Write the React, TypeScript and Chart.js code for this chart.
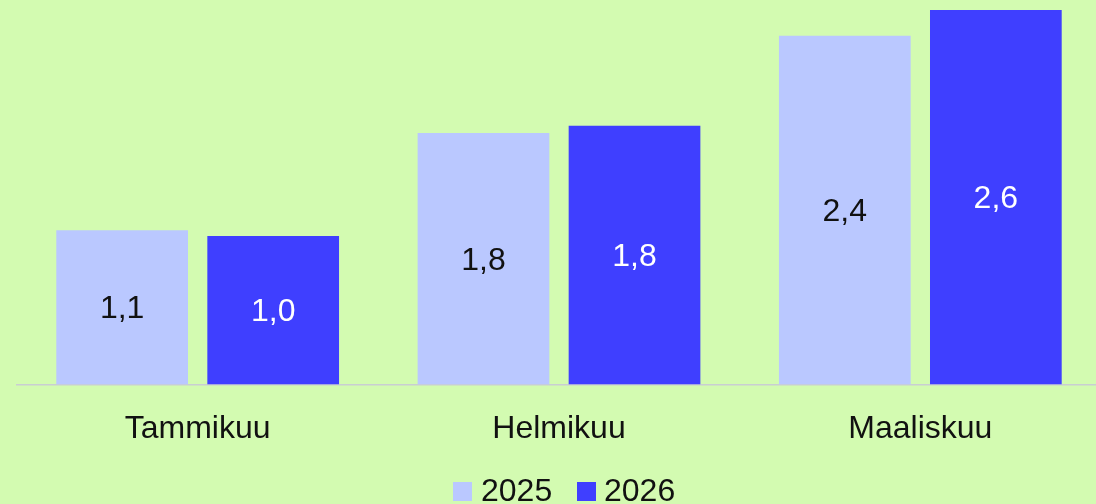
import React, { useEffect, useRef } from "react";
import { Chart, registerables } from "chart.js";

Chart.register(...registerables);

const categories = ["Tammikuu", "Helmikuu", "Maaliskuu"];
const seriesLabels = ["2025", "2026"];
const values2025 = [1.08, 1.76, 2.44];
const values2026 = [1.04, 1.81, 2.62];
const seriesColors = ["#bac8ff", "#3f3fff"];
const labelColors = ["#111111", "#ffffff"];

const BG = "#d3fbb1";
const FONT = "'Liberation Sans', Arial, sans-serif";

const fmt = (v: number) => v.toFixed(1).replace(".", ",");

const valueLabels = {
  id: "valueLabels",
  afterDatasetsDraw(chart: any) {
    const ctx = chart.ctx;
    ctx.save();
    ctx.font = `32px ${FONT}`;
    ctx.textAlign = "center";
    ctx.textBaseline = "middle";
    chart.data.datasets.forEach((ds: any, di: number) => {
      const meta = chart.getDatasetMeta(di);
      meta.data.forEach((el: any, i: number) => {
        const p = el.getProps(["x", "y", "base"], true);
        ctx.fillStyle = labelColors[di];
        ctx.fillText(fmt(ds.data[i]), p.x, (p.y + p.base) / 2 + 2);
      });
    });
    ctx.restore();
  },
};

export default function App() {
  const ref = useRef<HTMLCanvasElement | null>(null);

  useEffect(() => {
    document.body.style.margin = "0";
    document.body.style.background = BG;
    const chart = new Chart(ref.current!, {
      type: "bar",
      data: {
        labels: categories,
        datasets: [
          {
            label: seriesLabels[0],
            data: values2025,
            backgroundColor: seriesColors[0],
            categoryPercentage: 0.836,
            barPercentage: 0.872,
          },
          {
            label: seriesLabels[1],
            data: values2026,
            backgroundColor: seriesColors[1],
            categoryPercentage: 0.836,
            barPercentage: 0.872,
          },
        ],
      },
      options: {
        animation: false,
        responsive: true,
        maintainAspectRatio: false,
        layout: { padding: { left: 17, right: 0, top: 0, bottom: 31 } },
        plugins: {
          legend: { display: false },
          tooltip: { enabled: false },
        },
        scales: {
          x: {
            grid: { display: false, drawTicks: false },
            border: { display: true, color: "#c9ced2", width: 1.5 },
            ticks: {
              color: "#111111",
              padding: 25,
              font: { family: FONT, size: 32 },
            },
          },
          y: {
            display: false,
            min: 0,
            max: 2.69,
          },
        },
      },
      plugins: [valueLabels],
    });
    return () => chart.destroy();
  }, []);

  const legendText: React.CSSProperties = {
    position: "absolute",
    top: 474,
    fontFamily: FONT,
    fontSize: 32,
    lineHeight: "32px",
    color: "#111111",
    whiteSpace: "nowrap",
  };
  const box = (color: string, left: number): React.CSSProperties => ({
    position: "absolute",
    left,
    top: 482,
    width: 19,
    height: 19,
    background: color,
  });

  return (
    <div
      style={{
        position: "relative",
        width: 1096,
        height: 504,
        overflow: "hidden",
        background: BG,
      }}
    >
      <div style={{ position: "absolute", left: 0, top: 0, width: 1101, height: 504 }}>
        <canvas ref={ref} />
      </div>
      <div style={box(seriesColors[0], 453)} />
      <div style={{ ...legendText, left: 481 }}>{seriesLabels[0]}</div>
      <div style={box(seriesColors[1], 577)} />
      <div style={{ ...legendText, left: 604 }}>{seriesLabels[1]}</div>
    </div>
  );
}
